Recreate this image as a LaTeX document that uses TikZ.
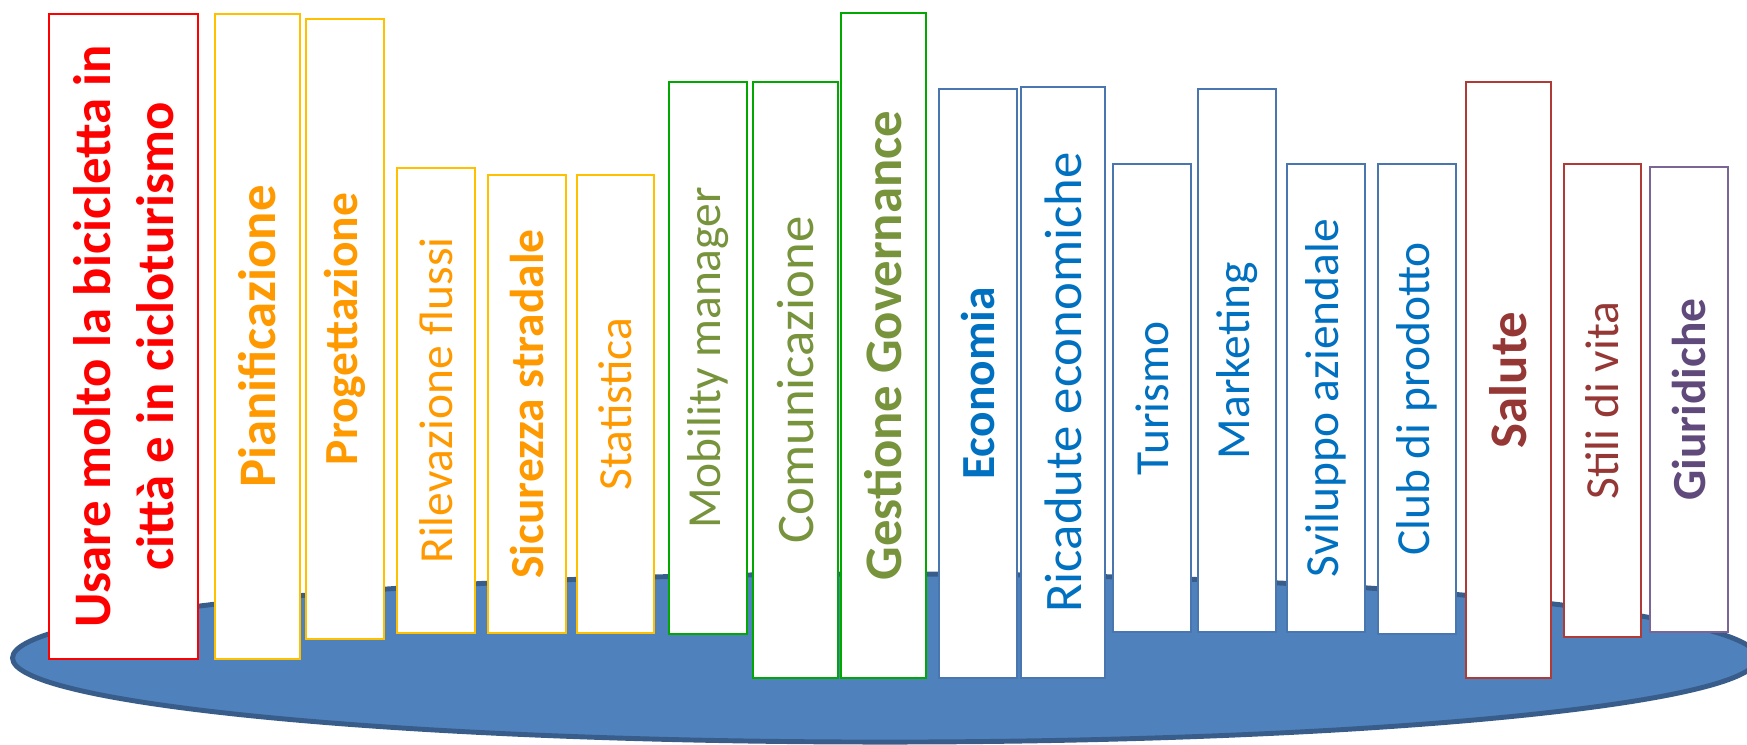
\documentclass[tikz,border=0pt]{standalone}
\usepackage{fontspec}
\setmainfont{Carlito}
\usepackage{tikz}

\definecolor{rosso}{HTML}{FF0000}
\definecolor{arancio}{HTML}{FF9900}
\definecolor{oro}{HTML}{FFC000}
\definecolor{oliva}{HTML}{77933C}
\definecolor{verde}{HTML}{00A800}
\definecolor{blu}{HTML}{0070C0}
\definecolor{blubordo}{HTML}{4A76B0}
\definecolor{bordeaux}{HTML}{953735}
\definecolor{bordeauxbordo}{HTML}{B03A36}
\definecolor{viola}{HTML}{604A7B}
\definecolor{violabordo}{HTML}{7B6496}
\definecolor{piatto}{HTML}{4F81BD}
\definecolor{piattobordo}{HTML}{385D8A}

\begin{document}
\begin{tikzpicture}[x=0.01cm,y=-0.01cm,
  book/.style 2 args={draw,fill=white,rotate=90,inner sep=0pt,outer sep=0pt,
    line width=0.7pt,align=center,minimum width=#1,minimum height=#2},
  big/.style={font=\fontsize{15}{18}\selectfont},
  bigb/.style={font=\bfseries\fontsize{15}{18}\selectfont},
  small/.style={font=\fontsize{13.5}{16}\selectfont},
  smallb/.style={font=\bfseries\fontsize{13.5}{16}\selectfont}]
  \useasboundingbox (0,0) rectangle (1747,744);

  % piatto
  \draw[fill=piatto,draw=piattobordo,line width=1.4pt] (885,658) ellipse [x radius=8.72cm,y radius=0.84cm];

  % pianificazione
  \node[book={6.45cm}{1.49cm},draw=rosso,text=rosso,bigb] (1) at (123.5,336.5)
    {Usare molto la bicicletta in\\città e in cicloturismo};
  \node[book={6.45cm}{0.85cm},draw=oro,text=arancio,bigb] (2) at (257.5,336.5) {Pianificazione};
  \node[book={6.20cm}{0.78cm},draw=oro,text=arancio,smallb] (3) at (345,329) {Progettazione};
  \node[book={4.65cm}{0.78cm},draw=oro,text=arancio,small] (4) at (436,400.5) {Rilevazione flussi};
  \node[book={4.58cm}{0.78cm},draw=oro,text=arancio,smallb] (5) at (527,404) {Sicurezza stradale};
  \node[book={4.58cm}{0.77cm},draw=oro,text=arancio,small] (6) at (615.5,404) {Statistica};

  % gestione
  \node[book={5.52cm}{0.78cm},draw=verde,text=oliva,small] (7) at (708,358) {Mobility manager};
  \node[book={5.96cm}{0.85cm},draw=verde,text=oliva,big] (8) at (795.5,380) {Comunicazione};
  \node[book={6.65cm}{0.85cm},draw=verde,text=oliva,bigb] (9) at (883.5,345.5) {Gestione Governance};

  % economia
  \node[book={5.89cm}{0.78cm},draw=blubordo,text=blu,smallb] (10) at (978,383.5) {Economia};
  \node[book={5.91cm}{0.84cm},draw=blubordo,text=blu,big] (11) at (1063,382.5) {Ricadute economiche};
  \node[book={4.68cm}{0.78cm},draw=blubordo,text=blu,small] (12) at (1152,398) {Turismo};
  \node[book={5.43cm}{0.78cm},draw=blubordo,text=blu,small] (13) at (1237,360.5) {Marketing};
  \node[book={4.68cm}{0.78cm},draw=blubordo,text=blu,small] (14) at (1326,398) {Sviluppo aziendale};
  \node[book={4.70cm}{0.78cm},draw=blubordo,text=blu,small] (15) at (1417,399) {Club di prodotto};

  % salute
  \node[book={5.96cm}{0.85cm},draw=bordeauxbordo,text=bordeaux,bigb] (16) at (1508.5,380) {Salute};
  \node[book={4.73cm}{0.77cm},draw=bordeauxbordo,text=bordeaux,small] (17) at (1602.5,400.5) {Stili di vita};
  \node[book={4.65cm}{0.78cm},draw=violabordo,text=viola,smallb] (18) at (1689,399.5) {Giuridiche};
\end{tikzpicture}
\end{document}
